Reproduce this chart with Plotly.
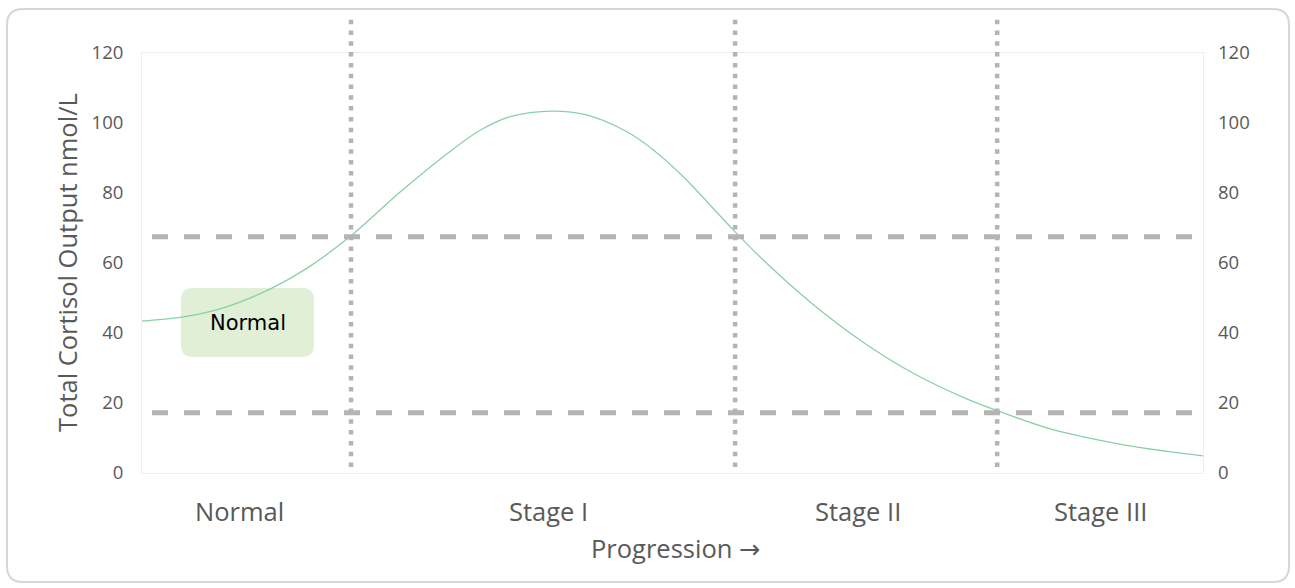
import plotly.graph_objects as go

# ---- data ----
progress = [0.0, 3.9, 7.6, 12.3, 15.6, 19.7, 24.3, 29.0, 31.9, 34.7, 38.7, 41.9, 45.7,
            48.2, 51.0, 55.4, 58.5, 63.2, 68.0, 72.7, 77.4, 80.6, 85.6, 89.4, 93.8, 100.0]
cortisol = [43.4, 44.6, 47.1, 52.9, 58.6, 67.8, 80.2, 91.8, 98.0, 101.8, 103.4, 102.3, 97.5,
            92.3, 84.7, 70.5, 61.0, 48.3, 37.3, 28.5, 21.6, 17.8, 12.6, 9.9, 7.4, 4.9]
stage_bounds = [19.7, 55.9, 80.6]
stage_labels = ["Normal", "Stage I", "Stage II", "Stage III"]
stage_label_pos = [9.2, 38.3, 67.5, 90.3]
ref_levels = [67.5, 17.2]
y_ticks = [0, 20, 40, 60, 80, 100, 120]

# ---- layout geometry (pixels) ----
W, H = 1295, 588
L, R, T, B = 142, 1203, 53, 473
PW, PH = R - L, B - T

def px(x):
    return (x - L) / PW

def py(y):
    return (B - y) / PH

def rounded_path(x0, y0, x1, y1, r):
    pts = [
        f"M {px(x0 + r)},{py(y0)}",
        f"L {px(x1 - r)},{py(y0)}",
        f"Q {px(x1)},{py(y0)} {px(x1)},{py(y0 + r)}",
        f"L {px(x1)},{py(y1 - r)}",
        f"Q {px(x1)},{py(y1)} {px(x1 - r)},{py(y1)}",
        f"L {px(x0 + r)},{py(y1)}",
        f"Q {px(x0)},{py(y1)} {px(x0)},{py(y1 - r)}",
        f"L {px(x0)},{py(y0 + r)}",
        f"Q {px(x0)},{py(y0)} {px(x0 + r)},{py(y0)}",
        "Z",
    ]
    return " ".join(pts)

TXT = "#595959"
FONT = "Open Sans"

fig = go.Figure()
fig.add_trace(go.Scatter(
    x=progress, y=cortisol, mode="lines",
    line=dict(color="#8ad0a6", width=1.3, shape="spline", smoothing=0.9),
    showlegend=False, hoverinfo="skip",
))
fig.add_trace(go.Scatter(x=[None], y=[None], yaxis="y2", showlegend=False))

shapes = []
# outer rounded border
shapes.append(dict(type="path", xref="paper", yref="paper",
                   path=rounded_path(7, 9, 1289, 582, 16),
                   line=dict(color="#d6d6d6", width=2), fillcolor="rgba(0,0,0,0)",
                   layer="below"))
# Normal box
shapes.append(dict(type="path", xref="paper", yref="paper",
                   path=rounded_path(181, 288, 314, 357, 12),
                   line=dict(width=0), fillcolor="#e0efd5", layer="below"))
# horizontal reference lines
for lv in ref_levels:
    shapes.append(dict(type="line", xref="paper", yref="y",
                       x0=px(152), x1=px(1200), y0=lv, y1=lv,
                       line=dict(color="#b4b4b4", width=5, dash="16px,16px"),
                       layer="above"))
# vertical stage boundaries
for sb in stage_bounds:
    shapes.append(dict(type="line", xref="x", yref="paper",
                       x0=sb, x1=sb, y0=py(467), y1=py(15),
                       line=dict(color="#b4b4b4", width=4.5, dash="4.5px,6.3px"),
                       layer="above"))

annotations = []
for lab, pos in zip(stage_labels, stage_label_pos):
    annotations.append(dict(x=pos, y=py(511), xref="x", yref="paper", text=lab,
                            showarrow=False, xanchor="center", yanchor="middle",
                            font=dict(family=FONT, size=25.5, color=TXT)))
annotations.append(dict(x=px(675), y=py(548), xref="paper", yref="paper",
                        text="Progression <span style=\"font-family:DejaVu Sans\">\u2192</span>",
                        showarrow=False, xanchor="center", yanchor="middle",
                        font=dict(family=FONT, size=25.5, color=TXT)))
annotations.append(dict(x=px(67), y=0.5, xref="paper", yref="paper",
                        text="Total Cortisol Output nmol/L", showarrow=False,
                        textangle=-90, xanchor="center", yanchor="middle",
                        font=dict(family=FONT, size=25.5, color=TXT)))
annotations.append(dict(x=px(247.5), y=py(323), xref="paper", yref="paper",
                        text="Normal", showarrow=False, xanchor="center", yanchor="middle",
                        font=dict(family="DejaVu Sans", size=21, color="#000000")))

yax = dict(range=[0, 120], tickvals=y_ticks, showgrid=False, zeroline=False,
           ticks="", tickfont=dict(family=FONT, size=18.5, color=TXT),
           ticklabelstandoff=14, fixedrange=True)

fig.update_layout(
    width=W, height=H,
    margin=dict(l=L, r=W - R, t=T, b=H - B),
    paper_bgcolor="white", plot_bgcolor="white",
    xaxis=dict(range=[0, 100], showgrid=False, zeroline=False, showticklabels=False,
               ticks="", showline=True, mirror=True, linecolor="#eeeeee", linewidth=1,
               fixedrange=True),
    yaxis=dict(**yax, showline=True, mirror=True, linecolor="#eeeeee", linewidth=1),
    yaxis2=dict(**yax, overlaying="y", side="right", showline=False),
    shapes=shapes, annotations=annotations, showlegend=False,
)

fig.write_html("out.html", config={"displayModeBar": False},
               post_script="document.body.style.margin='0';document.body.style.overflow='hidden';")
